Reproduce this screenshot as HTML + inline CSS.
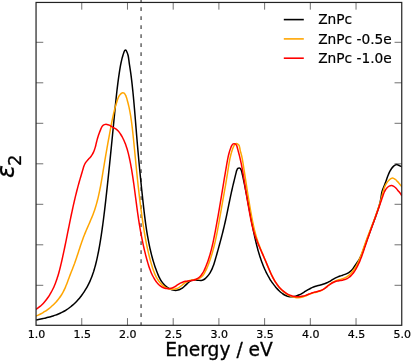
<!DOCTYPE html>
<html><head><meta charset="utf-8"><title>ZnPc</title>
<style>
html,body{margin:0;padding:0;background:#fff;}
body{width:411px;height:361px;overflow:hidden;}
svg{display:block;font-family:"DejaVu Sans","Liberation Sans",sans-serif;}
</style></head><body>
<svg width="411" height="361" viewBox="0 0 411 361">
<rect width="411" height="361" fill="#fff"/>
<clipPath id="c"><rect x="36.05" y="2.45" width="365.7" height="322.85"/></clipPath>
<line x1="141.1" y1="325.3" x2="141.1" y2="0" stroke="#6e6e6e" stroke-width="1.6" stroke-dasharray="3.6 5.4" stroke-dashoffset="0.6"/>
<g clip-path="url(#c)" fill="none" stroke-width="1.5" stroke-linejoin="round">
<path stroke="#000" d="M36.01,319.99C36.41,319.91 37.62,319.66 38.43,319.50C39.25,319.33 40.06,319.17 40.88,319.00C41.70,318.83 42.52,318.65 43.34,318.47C44.15,318.29 44.98,318.11 45.79,317.91C46.61,317.72 47.43,317.52 48.25,317.31C49.06,317.10 49.87,316.89 50.68,316.66C51.49,316.43 52.30,316.19 53.10,315.94C53.90,315.68 54.70,315.42 55.49,315.14C56.28,314.86 57.06,314.57 57.84,314.26C58.61,313.95 59.38,313.62 60.14,313.28C60.90,312.93 61.65,312.57 62.39,312.19C63.13,311.80 63.86,311.40 64.58,310.98C65.30,310.56 66.01,310.12 66.71,309.66C67.41,309.21 68.10,308.73 68.77,308.24C69.45,307.75 70.11,307.24 70.77,306.72C71.42,306.20 72.06,305.66 72.69,305.11C73.32,304.56 73.94,304.00 74.55,303.42C75.15,302.84 75.75,302.25 76.33,301.65C76.91,301.05 77.48,300.44 78.04,299.82C78.59,299.19 79.14,298.56 79.67,297.91C80.20,297.27 80.72,296.61 81.23,295.95C81.74,295.29 82.23,294.61 82.71,293.93C83.20,293.25 83.67,292.56 84.13,291.86C84.58,291.16 85.03,290.45 85.47,289.73C85.90,289.02 86.32,288.30 86.73,287.57C87.14,286.84 87.54,286.10 87.93,285.36C88.31,284.61 88.69,283.86 89.05,283.11C89.42,282.36 89.77,281.60 90.11,280.83C90.45,280.07 90.77,279.29 91.09,278.52C91.40,277.75 91.71,276.97 92.00,276.19C92.30,275.40 92.58,274.62 92.85,273.83C93.12,273.04 93.38,272.24 93.64,271.45C93.89,270.65 94.13,269.85 94.37,269.05C94.60,268.25 94.83,267.45 95.05,266.64C95.27,265.84 95.48,265.03 95.69,264.22C95.90,263.41 96.10,262.60 96.30,261.79C96.49,260.97 96.68,260.16 96.87,259.34C97.05,258.53 97.23,257.71 97.41,256.89C97.58,256.08 97.75,255.26 97.92,254.44C98.09,253.62 98.25,252.80 98.41,251.98C98.57,251.16 98.73,250.33 98.88,249.51C99.03,248.69 99.18,247.87 99.33,247.04C99.47,246.22 99.62,245.39 99.76,244.57C99.90,243.74 100.04,242.92 100.18,242.09C100.31,241.27 100.45,240.44 100.58,239.62C100.71,238.79 100.84,237.97 100.97,237.14C101.10,236.31 101.23,235.49 101.35,234.66C101.47,233.83 101.60,233.01 101.72,232.18C101.84,231.35 101.96,230.52 102.08,229.70C102.19,228.87 102.31,228.04 102.42,227.21C102.54,226.38 102.65,225.56 102.76,224.73C102.88,223.90 102.99,223.07 103.09,222.24C103.20,221.41 103.31,220.58 103.42,219.75C103.52,218.92 103.63,218.09 103.73,217.26C103.84,216.44 103.94,215.61 104.04,214.78C104.14,213.95 104.24,213.12 104.34,212.29C104.44,211.46 104.54,210.63 104.64,209.80C104.74,208.97 104.84,208.13 104.93,207.30C105.03,206.47 105.13,205.64 105.22,204.81C105.32,203.98 105.41,203.15 105.51,202.32C105.60,201.49 105.70,200.66 105.79,199.83C105.88,199.00 105.98,198.17 106.07,197.34C106.16,196.51 106.25,195.67 106.35,194.84C106.44,194.01 106.53,193.18 106.62,192.35C106.71,191.52 106.80,190.69 106.89,189.86C106.99,189.03 107.08,188.20 107.17,187.36C107.26,186.53 107.35,185.70 107.44,184.87C107.52,184.04 107.61,183.21 107.70,182.38C107.79,181.55 107.88,180.71 107.97,179.88C108.06,179.05 108.14,178.22 108.23,177.39C108.32,176.56 108.41,175.73 108.49,174.89C108.58,174.06 108.67,173.23 108.75,172.40C108.84,171.57 108.93,170.74 109.01,169.90C109.10,169.07 109.19,168.24 109.27,167.41C109.36,166.58 109.44,165.75 109.53,164.91C109.61,164.08 109.70,163.25 109.78,162.42C109.87,161.59 109.95,160.76 110.04,159.92C110.12,159.09 110.20,158.26 110.29,157.43C110.37,156.60 110.46,155.76 110.54,154.93C110.62,154.10 110.71,153.27 110.79,152.44C110.87,151.60 110.96,150.77 111.04,149.94C111.12,149.11 111.20,148.28 111.29,147.45C111.37,146.61 111.45,145.78 111.53,144.95C111.62,144.12 111.70,143.28 111.78,142.45C111.86,141.62 111.94,140.79 112.03,139.96C112.11,139.12 112.19,138.29 112.27,137.46C112.35,136.63 112.44,135.80 112.52,134.96C112.60,134.13 112.68,133.30 112.76,132.47C112.84,131.63 112.92,130.80 113.01,129.97C113.09,129.14 113.17,128.31 113.25,127.47C113.33,126.64 113.41,125.81 113.49,124.98C113.57,124.14 113.65,123.31 113.73,122.48C113.82,121.65 113.90,120.82 113.98,119.98C114.06,119.15 114.14,118.32 114.22,117.49C114.30,116.65 114.38,115.82 114.46,114.99C114.54,114.16 114.63,113.33 114.71,112.49C114.79,111.66 114.87,110.83 114.95,110.00C115.03,109.16 115.11,108.33 115.19,107.50C115.28,106.67 115.36,105.84 115.44,105.00C115.52,104.17 115.61,103.34 115.69,102.51C115.77,101.68 115.86,100.84 115.94,100.01C116.03,99.18 116.12,98.35 116.20,97.52C116.29,96.69 116.38,95.85 116.47,95.02C116.56,94.19 116.65,93.36 116.74,92.53C116.84,91.70 116.93,90.87 117.02,90.04C117.12,89.21 117.22,88.38 117.32,87.55C117.42,86.72 117.52,85.89 117.62,85.06C117.72,84.23 117.83,83.40 117.93,82.57C118.04,81.74 118.15,80.92 118.26,80.09C118.37,79.26 118.49,78.43 118.60,77.61C118.72,76.78 118.84,75.95 118.96,75.13C119.08,74.30 119.21,73.47 119.33,72.65C119.46,71.82 119.59,71.00 119.72,70.17C119.86,69.35 119.99,68.52 120.13,67.70C120.27,66.87 120.42,66.05 120.57,65.23C120.72,64.41 120.88,63.58 121.04,62.76C121.21,61.94 121.39,61.12 121.58,60.31C121.77,59.49 121.97,58.67 122.18,57.86C122.40,57.04 122.63,56.23 122.88,55.42C123.13,54.61 123.39,53.80 123.68,52.99C123.97,52.19 124.25,51.06 124.61,50.59C124.97,50.12 125.42,49.84 125.84,50.17C126.26,50.50 126.77,51.75 127.13,52.56C127.49,53.37 127.75,54.21 127.97,55.04C128.20,55.86 128.35,56.68 128.49,57.50C128.63,58.32 128.72,59.14 128.83,59.97C128.94,60.79 129.03,61.61 129.14,62.43C129.25,63.26 129.38,64.09 129.50,64.91C129.63,65.74 129.76,66.57 129.89,67.39C130.02,68.22 130.15,69.05 130.27,69.88C130.40,70.71 130.52,71.54 130.64,72.37C130.75,73.20 130.87,74.02 130.98,74.85C131.09,75.68 131.20,76.51 131.30,77.34C131.41,78.17 131.51,79.00 131.61,79.83C131.71,80.66 131.80,81.49 131.90,82.32C131.99,83.15 132.09,83.98 132.18,84.81C132.27,85.64 132.36,86.47 132.44,87.30C132.53,88.14 132.62,88.97 132.70,89.80C132.79,90.63 132.87,91.46 132.95,92.29C133.04,93.12 133.12,93.96 133.20,94.79C133.28,95.62 133.36,96.45 133.44,97.28C133.51,98.12 133.59,98.95 133.67,99.78C133.74,100.61 133.82,101.45 133.89,102.28C133.97,103.11 134.04,103.95 134.12,104.78C134.19,105.61 134.26,106.44 134.33,107.28C134.41,108.11 134.48,108.94 134.55,109.78C134.62,110.61 134.69,111.44 134.76,112.28C134.83,113.11 134.90,113.95 134.97,114.78C135.04,115.61 135.10,116.45 135.17,117.28C135.24,118.11 135.31,118.95 135.38,119.78C135.44,120.62 135.51,121.45 135.58,122.28C135.65,123.12 135.71,123.95 135.78,124.78C135.85,125.62 135.92,126.45 135.98,127.29C136.05,128.12 136.12,128.95 136.19,129.79C136.25,130.62 136.32,131.45 136.39,132.29C136.46,133.12 136.52,133.95 136.59,134.79C136.66,135.62 136.73,136.45 136.80,137.29C136.87,138.12 136.94,138.95 137.01,139.79C137.08,140.62 137.15,141.45 137.22,142.29C137.29,143.12 137.36,143.95 137.43,144.79C137.50,145.62 137.57,146.45 137.65,147.28C137.72,148.12 137.79,148.95 137.87,149.78C137.94,150.61 138.01,151.45 138.09,152.28C138.16,153.11 138.24,153.94 138.31,154.78C138.39,155.61 138.46,156.44 138.54,157.27C138.62,158.10 138.69,158.94 138.77,159.77C138.85,160.60 138.92,161.43 139.00,162.26C139.08,163.10 139.16,163.93 139.24,164.76C139.32,165.59 139.40,166.42 139.48,167.25C139.56,168.09 139.64,168.92 139.72,169.75C139.80,170.58 139.88,171.41 139.96,172.24C140.04,173.08 140.12,173.91 140.20,174.74C140.29,175.57 140.37,176.40 140.45,177.23C140.53,178.07 140.62,178.90 140.70,179.73C140.78,180.56 140.87,181.39 140.95,182.22C141.04,183.06 141.12,183.89 141.21,184.72C141.29,185.55 141.38,186.38 141.46,187.21C141.55,188.05 141.64,188.88 141.72,189.71C141.81,190.54 141.90,191.37 141.98,192.20C142.07,193.04 142.16,193.87 142.25,194.70C142.34,195.53 142.42,196.36 142.51,197.19C142.60,198.03 142.69,198.86 142.78,199.69C142.87,200.52 142.96,201.35 143.05,202.19C143.14,203.02 143.23,203.85 143.33,204.68C143.42,205.52 143.51,206.35 143.60,207.18C143.70,208.01 143.79,208.84 143.89,209.67C143.98,210.51 144.08,211.34 144.18,212.17C144.28,213.00 144.38,213.83 144.48,214.66C144.58,215.49 144.68,216.32 144.79,217.15C144.89,217.98 145.00,218.81 145.11,219.64C145.21,220.47 145.32,221.30 145.44,222.13C145.55,222.96 145.66,223.79 145.78,224.62C145.90,225.44 146.02,226.27 146.14,227.10C146.26,227.92 146.38,228.75 146.51,229.58C146.64,230.40 146.77,231.23 146.90,232.05C147.03,232.88 147.17,233.70 147.31,234.52C147.45,235.35 147.59,236.17 147.74,236.99C147.88,237.82 148.03,238.64 148.18,239.46C148.34,240.28 148.49,241.10 148.65,241.92C148.81,242.74 148.98,243.55 149.14,244.37C149.31,245.19 149.48,246.01 149.66,246.82C149.83,247.64 150.01,248.45 150.20,249.26C150.38,250.08 150.57,250.89 150.76,251.70C150.96,252.51 151.16,253.33 151.36,254.13C151.56,254.94 151.77,255.75 151.99,256.56C152.20,257.37 152.42,258.17 152.65,258.98C152.87,259.78 153.10,260.58 153.34,261.38C153.58,262.19 153.83,262.99 154.08,263.78C154.33,264.58 154.59,265.38 154.85,266.17C155.12,266.97 155.39,267.76 155.68,268.55C155.96,269.34 156.25,270.13 156.54,270.92C156.84,271.71 157.15,272.49 157.46,273.28C157.78,274.06 158.10,274.84 158.45,275.60C158.79,276.37 159.15,277.13 159.53,277.88C159.91,278.62 160.30,279.35 160.73,280.06C161.16,280.78 161.60,281.47 162.08,282.14C162.57,282.81 163.07,283.46 163.62,284.08C164.17,284.70 164.74,285.30 165.37,285.85C165.99,286.41 166.65,286.95 167.35,287.43C168.05,287.91 168.80,288.37 169.56,288.75C170.32,289.14 171.12,289.48 171.92,289.74C172.71,290.00 173.54,290.20 174.35,290.30C175.16,290.40 175.98,290.42 176.78,290.33C177.58,290.25 178.38,290.06 179.14,289.79C179.91,289.53 180.65,289.16 181.36,288.73C182.08,288.29 182.75,287.76 183.41,287.21C184.07,286.66 184.69,286.02 185.33,285.42C185.96,284.82 186.57,284.17 187.20,283.59C187.84,283.00 188.46,282.41 189.12,281.92C189.79,281.43 190.45,280.96 191.17,280.63C191.88,280.30 192.63,280.05 193.42,279.94C194.21,279.83 195.07,279.91 195.93,279.98C196.79,280.04 197.70,280.26 198.56,280.33C199.43,280.40 200.32,280.52 201.13,280.42C201.95,280.32 202.73,280.08 203.45,279.73C204.18,279.39 204.86,278.87 205.50,278.35C206.13,277.82 206.72,277.20 207.28,276.59C207.84,275.97 208.35,275.32 208.84,274.66C209.32,274.00 209.77,273.31 210.19,272.60C210.61,271.89 211.00,271.17 211.36,270.43C211.73,269.69 212.07,268.93 212.39,268.16C212.72,267.39 213.01,266.61 213.30,265.82C213.59,265.03 213.85,264.23 214.11,263.43C214.37,262.62 214.62,261.81 214.86,261.00C215.10,260.19 215.34,259.37 215.57,258.56C215.80,257.74 216.03,256.93 216.26,256.12C216.50,255.30 216.73,254.49 216.95,253.68C217.18,252.87 217.41,252.06 217.64,251.26C217.86,250.45 218.09,249.64 218.31,248.84C218.54,248.03 218.76,247.23 218.98,246.42C219.20,245.62 219.42,244.81 219.64,244.01C219.86,243.20 220.08,242.40 220.29,241.60C220.51,240.79 220.72,239.99 220.94,239.19C221.15,238.38 221.36,237.58 221.57,236.78C221.78,235.97 221.99,235.17 222.19,234.36C222.40,233.56 222.60,232.75 222.80,231.95C223.00,231.14 223.20,230.34 223.40,229.53C223.60,228.72 223.80,227.91 223.99,227.10C224.18,226.29 224.37,225.48 224.56,224.67C224.75,223.86 224.94,223.05 225.12,222.23C225.31,221.42 225.49,220.60 225.67,219.78C225.85,218.96 226.03,218.14 226.20,217.32C226.38,216.50 226.55,215.68 226.72,214.86C226.89,214.03 227.07,213.21 227.24,212.39C227.41,211.56 227.57,210.74 227.74,209.91C227.91,209.09 228.08,208.27 228.25,207.44C228.41,206.62 228.58,205.79 228.75,204.97C228.92,204.15 229.08,203.33 229.25,202.50C229.42,201.68 229.59,200.86 229.76,200.04C229.93,199.22 230.10,198.41 230.27,197.59C230.44,196.77 230.62,195.96 230.79,195.15C230.97,194.34 231.15,193.52 231.32,192.71C231.50,191.91 231.68,191.10 231.87,190.29C232.05,189.48 232.23,188.67 232.42,187.86C232.61,187.06 232.79,186.25 232.99,185.44C233.18,184.63 233.37,183.82 233.56,183.01C233.76,182.20 233.95,181.38 234.15,180.57C234.35,179.75 234.55,178.93 234.75,178.11C234.95,177.29 235.16,176.47 235.36,175.64C235.57,174.81 235.78,173.98 235.99,173.14C236.21,172.31 236.34,171.42 236.65,170.64C236.97,169.86 237.33,168.88 237.87,168.47C238.41,168.06 239.34,167.90 239.90,168.17C240.46,168.44 240.90,169.37 241.24,170.09C241.57,170.81 241.72,171.67 241.92,172.48C242.13,173.29 242.29,174.13 242.47,174.96C242.65,175.78 242.83,176.61 243.01,177.43C243.18,178.26 243.36,179.08 243.53,179.91C243.71,180.73 243.88,181.56 244.05,182.38C244.22,183.20 244.39,184.03 244.56,184.85C244.72,185.67 244.89,186.50 245.06,187.32C245.22,188.14 245.39,188.97 245.55,189.79C245.71,190.61 245.87,191.43 246.03,192.26C246.19,193.08 246.35,193.90 246.51,194.72C246.67,195.54 246.83,196.36 246.99,197.19C247.15,198.01 247.30,198.83 247.46,199.65C247.62,200.47 247.77,201.29 247.93,202.11C248.08,202.93 248.24,203.75 248.39,204.57C248.55,205.39 248.70,206.21 248.86,207.03C249.01,207.85 249.17,208.67 249.32,209.49C249.48,210.31 249.63,211.13 249.78,211.95C249.94,212.77 250.09,213.59 250.25,214.41C250.40,215.23 250.56,216.05 250.72,216.87C250.87,217.69 251.03,218.51 251.18,219.33C251.34,220.15 251.50,220.97 251.66,221.78C251.82,222.60 251.97,223.42 252.13,224.24C252.29,225.06 252.45,225.88 252.62,226.70C252.78,227.52 252.94,228.33 253.11,229.15C253.27,229.97 253.44,230.79 253.61,231.61C253.77,232.43 253.94,233.24 254.12,234.06C254.29,234.88 254.47,235.69 254.65,236.51C254.82,237.33 255.01,238.14 255.19,238.96C255.38,239.77 255.56,240.59 255.76,241.40C255.95,242.21 256.15,243.03 256.35,243.84C256.55,244.65 256.75,245.46 256.96,246.27C257.17,247.08 257.39,247.89 257.61,248.70C257.83,249.51 258.05,250.32 258.28,251.12C258.51,251.93 258.75,252.73 258.99,253.54C259.23,254.34 259.48,255.14 259.73,255.94C259.99,256.75 260.25,257.55 260.52,258.34C260.79,259.14 261.06,259.94 261.35,260.73C261.63,261.52 261.92,262.31 262.22,263.10C262.51,263.89 262.82,264.67 263.13,265.45C263.44,266.22 263.77,267.00 264.10,267.77C264.42,268.53 264.76,269.30 265.11,270.05C265.46,270.81 265.81,271.56 266.18,272.30C266.54,273.05 266.91,273.78 267.30,274.51C267.68,275.24 268.07,275.96 268.47,276.67C268.88,277.38 269.29,278.08 269.71,278.78C270.14,279.48 270.57,280.17 271.03,280.85C271.48,281.54 271.94,282.21 272.42,282.89C272.91,283.56 273.40,284.24 273.92,284.90C274.44,285.57 274.97,286.24 275.53,286.90C276.08,287.57 276.65,288.23 277.25,288.87C277.84,289.51 278.45,290.15 279.08,290.75C279.70,291.35 280.35,291.94 281.01,292.48C281.67,293.02 282.35,293.54 283.05,294.00C283.74,294.46 284.45,294.89 285.17,295.25C285.90,295.62 286.64,295.94 287.39,296.18C288.15,296.43 288.92,296.62 289.70,296.72C290.48,296.83 291.28,296.87 292.08,296.82C292.88,296.78 293.71,296.65 294.52,296.47C295.34,296.29 296.16,296.03 296.97,295.74C297.79,295.45 298.60,295.10 299.39,294.74C300.18,294.38 300.96,293.97 301.71,293.55C302.47,293.14 303.20,292.70 303.92,292.27C304.65,291.84 305.35,291.39 306.05,290.95C306.76,290.52 307.45,290.08 308.16,289.66C308.87,289.25 309.57,288.83 310.29,288.46C311.02,288.08 311.74,287.72 312.50,287.40C313.25,287.08 314.03,286.80 314.82,286.53C315.61,286.27 316.43,286.05 317.24,285.82C318.06,285.60 318.89,285.39 319.71,285.18C320.53,284.96 321.36,284.75 322.18,284.51C322.99,284.27 323.80,284.03 324.59,283.74C325.38,283.45 326.15,283.13 326.91,282.78C327.66,282.43 328.39,282.03 329.12,281.63C329.85,281.23 330.56,280.80 331.28,280.37C331.99,279.95 332.70,279.51 333.42,279.10C334.14,278.69 334.86,278.28 335.60,277.90C336.34,277.53 337.09,277.18 337.86,276.86C338.63,276.55 339.43,276.28 340.22,276.01C341.01,275.74 341.82,275.50 342.62,275.23C343.41,274.97 344.22,274.71 345.00,274.40C345.77,274.09 346.55,273.77 347.29,273.38C348.02,273.00 348.75,272.56 349.42,272.08C350.10,271.60 350.74,271.06 351.33,270.48C351.92,269.90 352.45,269.25 352.96,268.59C353.47,267.93 353.93,267.22 354.40,266.53C354.87,265.83 355.32,265.11 355.79,264.41C356.26,263.72 356.75,263.05 357.23,262.36C357.70,261.68 358.19,261.01 358.64,260.31C359.09,259.60 359.50,258.88 359.90,258.14C360.29,257.40 360.66,256.65 361.00,255.89C361.35,255.13 361.68,254.36 361.99,253.59C362.31,252.81 362.61,252.04 362.90,251.25C363.19,250.47 363.47,249.69 363.75,248.90C364.03,248.11 364.30,247.32 364.57,246.54C364.85,245.75 365.12,244.96 365.40,244.17C365.68,243.38 365.96,242.60 366.24,241.81C366.53,241.02 366.81,240.24 367.10,239.45C367.39,238.67 367.68,237.88 367.97,237.10C368.26,236.31 368.55,235.53 368.84,234.74C369.13,233.96 369.43,233.18 369.72,232.39C370.02,231.61 370.31,230.82 370.61,230.04C370.90,229.26 371.20,228.47 371.49,227.69C371.79,226.91 372.08,226.12 372.37,225.34C372.67,224.56 372.96,223.77 373.25,222.99C373.54,222.20 373.83,221.42 374.12,220.64C374.41,219.85 374.70,219.07 374.98,218.28C375.27,217.50 375.55,216.71 375.83,215.92C376.11,215.14 376.39,214.35 376.67,213.56C376.94,212.78 377.21,211.99 377.48,211.20C377.74,210.41 378.00,209.61 378.25,208.82C378.50,208.02 378.75,207.23 378.98,206.43C379.21,205.63 379.43,204.83 379.64,204.02C379.85,203.21 380.05,202.40 380.23,201.59C380.42,200.77 380.59,199.95 380.74,199.13C380.89,198.30 381.03,197.47 381.15,196.64C381.27,195.80 381.34,194.95 381.48,194.12C381.63,193.30 381.79,192.48 382.01,191.68C382.22,190.88 382.50,190.10 382.78,189.32C383.06,188.54 383.38,187.77 383.69,187.00C384.00,186.23 384.33,185.46 384.64,184.68C384.95,183.90 385.25,183.12 385.55,182.33C385.84,181.54 386.11,180.74 386.39,179.94C386.68,179.15 386.95,178.34 387.24,177.55C387.52,176.76 387.81,175.97 388.12,175.19C388.44,174.41 388.76,173.64 389.11,172.88C389.46,172.13 389.83,171.39 390.24,170.67C390.66,169.95 391.09,169.24 391.58,168.56C392.07,167.89 392.59,167.19 393.17,166.61C393.75,166.03 394.37,165.41 395.06,165.09C395.75,164.76 396.50,164.53 397.30,164.65C398.11,164.77 399.10,165.43 399.88,165.82C400.66,166.21 401.64,166.80 401.99,166.99"/>
<path stroke="#ffa500" d="M36.03,316.13C36.41,315.96 37.56,315.48 38.31,315.13C39.06,314.77 39.81,314.40 40.55,314.02C41.29,313.63 42.02,313.23 42.74,312.80C43.46,312.38 44.18,311.95 44.88,311.49C45.58,311.04 46.28,310.57 46.96,310.08C47.65,309.59 48.32,309.09 48.98,308.58C49.64,308.06 50.30,307.53 50.93,306.98C51.57,306.44 52.20,305.88 52.81,305.30C53.43,304.73 54.03,304.14 54.61,303.54C55.20,302.94 55.77,302.32 56.33,301.70C56.88,301.07 57.43,300.43 57.95,299.78C58.48,299.12 58.99,298.46 59.48,297.79C59.98,297.11 60.45,296.42 60.91,295.73C61.37,295.03 61.81,294.32 62.24,293.60C62.66,292.88 63.06,292.15 63.45,291.41C63.83,290.68 64.20,289.93 64.55,289.17C64.90,288.42 65.24,287.65 65.56,286.88C65.89,286.12 66.20,285.34 66.51,284.56C66.82,283.78 67.11,283.00 67.41,282.22C67.70,281.43 67.99,280.64 68.28,279.86C68.57,279.07 68.85,278.28 69.15,277.49C69.44,276.71 69.73,275.92 70.03,275.14C70.33,274.36 70.63,273.58 70.94,272.80C71.24,272.02 71.55,271.24 71.86,270.46C72.16,269.69 72.47,268.91 72.78,268.13C73.08,267.35 73.39,266.57 73.68,265.79C73.98,265.01 74.28,264.23 74.57,263.45C74.85,262.66 75.13,261.87 75.41,261.08C75.69,260.30 75.96,259.50 76.23,258.71C76.50,257.92 76.76,257.12 77.03,256.33C77.29,255.54 77.55,254.74 77.81,253.94C78.07,253.15 78.33,252.35 78.58,251.55C78.84,250.75 79.10,249.96 79.36,249.16C79.62,248.36 79.88,247.57 80.14,246.77C80.40,245.98 80.66,245.18 80.93,244.39C81.20,243.60 81.47,242.80 81.75,242.01C82.02,241.22 82.30,240.44 82.59,239.65C82.87,238.86 83.17,238.08 83.46,237.30C83.76,236.52 84.07,235.74 84.38,234.96C84.68,234.19 85.00,233.41 85.32,232.64C85.64,231.87 85.96,231.10 86.29,230.33C86.61,229.56 86.94,228.79 87.27,228.02C87.60,227.25 87.94,226.49 88.27,225.72C88.61,224.96 88.94,224.19 89.27,223.43C89.61,222.66 89.94,221.89 90.27,221.12C90.60,220.36 90.93,219.59 91.25,218.82C91.57,218.05 91.89,217.27 92.20,216.50C92.51,215.72 92.82,214.95 93.12,214.17C93.41,213.38 93.70,212.60 93.99,211.81C94.27,211.02 94.54,210.23 94.80,209.44C95.07,208.64 95.32,207.84 95.57,207.04C95.81,206.24 96.05,205.43 96.28,204.63C96.51,203.82 96.73,203.01 96.95,202.20C97.17,201.39 97.38,200.58 97.58,199.77C97.79,198.95 97.99,198.14 98.18,197.32C98.37,196.51 98.56,195.69 98.74,194.87C98.93,194.06 99.10,193.24 99.28,192.42C99.45,191.61 99.62,190.79 99.79,189.97C99.96,189.15 100.12,188.33 100.28,187.51C100.43,186.69 100.59,185.87 100.74,185.05C100.89,184.23 101.04,183.41 101.19,182.58C101.34,181.76 101.48,180.94 101.62,180.12C101.77,179.29 101.91,178.47 102.05,177.65C102.19,176.82 102.32,176.00 102.46,175.17C102.59,174.35 102.73,173.52 102.86,172.70C103.00,171.87 103.13,171.05 103.27,170.22C103.40,169.40 103.53,168.57 103.67,167.75C103.80,166.92 103.93,166.09 104.07,165.27C104.20,164.44 104.34,163.62 104.47,162.79C104.61,161.96 104.75,161.14 104.89,160.31C105.03,159.48 105.17,158.66 105.31,157.83C105.45,157.00 105.59,156.18 105.73,155.35C105.88,154.52 106.02,153.70 106.17,152.87C106.31,152.04 106.46,151.22 106.60,150.39C106.75,149.56 106.90,148.74 107.04,147.91C107.19,147.09 107.34,146.26 107.49,145.44C107.64,144.61 107.78,143.79 107.93,142.96C108.08,142.14 108.23,141.31 108.38,140.49C108.53,139.67 108.68,138.84 108.83,138.02C108.98,137.20 109.13,136.37 109.28,135.55C109.43,134.73 109.58,133.91 109.73,133.09C109.88,132.26 110.03,131.44 110.18,130.62C110.33,129.80 110.48,128.98 110.64,128.17C110.79,127.35 110.94,126.53 111.09,125.71C111.25,124.89 111.40,124.08 111.56,123.26C111.72,122.44 111.88,121.62 112.05,120.81C112.21,119.99 112.38,119.17 112.55,118.36C112.72,117.54 112.90,116.73 113.08,115.91C113.26,115.10 113.45,114.28 113.64,113.47C113.83,112.65 114.03,111.84 114.23,111.02C114.44,110.21 114.65,109.39 114.86,108.58C115.08,107.76 115.31,106.95 115.54,106.14C115.77,105.32 116.01,104.51 116.26,103.69C116.51,102.88 116.77,102.06 117.04,101.25C117.31,100.43 117.57,99.61 117.87,98.81C118.18,98.01 118.47,97.18 118.85,96.45C119.23,95.72 119.64,95.00 120.18,94.42C120.71,93.84 121.41,93.16 122.07,92.96C122.73,92.76 123.55,92.85 124.12,93.23C124.70,93.61 125.15,94.51 125.55,95.23C125.94,95.96 126.20,96.79 126.48,97.59C126.76,98.39 126.98,99.23 127.21,100.05C127.45,100.87 127.67,101.69 127.88,102.51C128.10,103.34 128.30,104.16 128.50,104.98C128.69,105.80 128.88,106.63 129.06,107.45C129.24,108.27 129.41,109.10 129.57,109.92C129.74,110.75 129.89,111.57 130.05,112.40C130.20,113.22 130.34,114.04 130.48,114.87C130.62,115.70 130.75,116.52 130.87,117.35C131.00,118.17 131.12,119.00 131.24,119.83C131.36,120.65 131.47,121.48 131.58,122.31C131.69,123.13 131.80,123.96 131.90,124.79C132.00,125.62 132.10,126.45 132.20,127.27C132.30,128.10 132.39,128.93 132.48,129.76C132.58,130.59 132.67,131.42 132.76,132.25C132.85,133.08 132.94,133.91 133.03,134.74C133.12,135.57 133.20,136.40 133.29,137.23C133.38,138.06 133.46,138.89 133.55,139.73C133.63,140.56 133.72,141.39 133.80,142.22C133.89,143.05 133.97,143.89 134.05,144.72C134.14,145.55 134.22,146.38 134.30,147.21C134.38,148.05 134.46,148.88 134.55,149.71C134.63,150.55 134.71,151.38 134.79,152.21C134.87,153.05 134.95,153.88 135.03,154.71C135.11,155.55 135.19,156.38 135.27,157.21C135.35,158.05 135.43,158.88 135.52,159.71C135.60,160.55 135.68,161.38 135.76,162.21C135.84,163.05 135.92,163.88 136.00,164.72C136.08,165.55 136.17,166.38 136.25,167.22C136.33,168.05 136.41,168.88 136.50,169.72C136.58,170.55 136.66,171.38 136.75,172.22C136.83,173.05 136.92,173.88 137.00,174.72C137.09,175.55 137.17,176.38 137.26,177.22C137.35,178.05 137.43,178.88 137.52,179.72C137.61,180.55 137.70,181.38 137.79,182.22C137.88,183.05 137.97,183.88 138.06,184.71C138.15,185.55 138.24,186.38 138.33,187.21C138.43,188.04 138.52,188.88 138.61,189.71C138.71,190.54 138.80,191.37 138.90,192.20C138.99,193.03 139.09,193.87 139.19,194.70C139.28,195.53 139.38,196.36 139.48,197.19C139.58,198.02 139.68,198.85 139.78,199.68C139.88,200.52 139.98,201.35 140.09,202.18C140.19,203.01 140.29,203.84 140.40,204.67C140.50,205.50 140.61,206.33 140.72,207.16C140.82,207.99 140.93,208.81 141.04,209.64C141.15,210.47 141.26,211.30 141.37,212.13C141.48,212.96 141.60,213.79 141.71,214.62C141.82,215.44 141.94,216.27 142.05,217.10C142.17,217.93 142.29,218.75 142.41,219.58C142.52,220.41 142.64,221.24 142.77,222.06C142.89,222.89 143.01,223.72 143.13,224.54C143.26,225.37 143.38,226.19 143.51,227.02C143.64,227.84 143.77,228.67 143.90,229.49C144.03,230.32 144.17,231.14 144.31,231.97C144.44,232.79 144.58,233.61 144.72,234.44C144.86,235.26 145.01,236.08 145.15,236.90C145.30,237.73 145.45,238.55 145.60,239.37C145.76,240.19 145.91,241.01 146.07,241.83C146.23,242.65 146.39,243.47 146.56,244.29C146.72,245.11 146.89,245.93 147.06,246.75C147.24,247.57 147.41,248.38 147.59,249.20C147.78,250.02 147.96,250.83 148.15,251.65C148.34,252.47 148.53,253.28 148.73,254.10C148.93,254.91 149.13,255.72 149.33,256.54C149.54,257.35 149.75,258.16 149.97,258.98C150.18,259.79 150.40,260.60 150.63,261.41C150.86,262.22 151.09,263.03 151.33,263.84C151.56,264.65 151.80,265.46 152.05,266.26C152.30,267.07 152.55,267.88 152.82,268.68C153.09,269.48 153.36,270.27 153.65,271.06C153.95,271.85 154.25,272.63 154.57,273.40C154.89,274.17 155.23,274.93 155.59,275.68C155.95,276.43 156.33,277.17 156.74,277.89C157.14,278.61 157.57,279.31 158.03,280.00C158.49,280.69 158.97,281.36 159.49,282.01C160.00,282.65 160.55,283.28 161.13,283.89C161.71,284.49 162.33,285.08 162.97,285.62C163.62,286.16 164.31,286.68 165.02,287.13C165.73,287.58 166.48,287.99 167.25,288.31C168.01,288.63 168.82,288.89 169.64,289.06C170.45,289.23 171.30,289.32 172.13,289.33C172.97,289.34 173.82,289.27 174.64,289.12C175.45,288.97 176.27,288.74 177.04,288.44C177.81,288.13 178.55,287.72 179.26,287.28C179.96,286.84 180.63,286.30 181.30,285.78C181.97,285.27 182.61,284.69 183.28,284.18C183.94,283.67 184.61,283.15 185.31,282.70C186.01,282.26 186.73,281.85 187.47,281.49C188.21,281.13 188.97,280.82 189.76,280.55C190.54,280.29 191.34,280.07 192.17,279.90C192.99,279.72 193.85,279.64 194.69,279.51C195.53,279.38 196.39,279.31 197.19,279.12C197.99,278.93 198.77,278.70 199.47,278.35C200.18,278.00 200.82,277.53 201.42,277.00C202.02,276.47 202.56,275.84 203.08,275.17C203.59,274.51 204.05,273.77 204.49,273.03C204.93,272.28 205.33,271.48 205.71,270.70C206.10,269.92 206.46,269.13 206.80,268.34C207.15,267.56 207.48,266.78 207.80,266.00C208.11,265.22 208.41,264.44 208.71,263.66C209.00,262.88 209.29,262.10 209.56,261.32C209.84,260.54 210.11,259.75 210.37,258.97C210.64,258.18 210.89,257.39 211.14,256.60C211.39,255.81 211.64,255.02 211.88,254.22C212.11,253.42 212.35,252.63 212.57,251.83C212.80,251.03 213.02,250.23 213.24,249.42C213.45,248.62 213.66,247.82 213.87,247.01C214.08,246.20 214.28,245.39 214.47,244.58C214.67,243.77 214.86,242.96 215.05,242.15C215.24,241.34 215.42,240.52 215.60,239.71C215.78,238.89 215.96,238.08 216.13,237.26C216.30,236.44 216.47,235.62 216.64,234.80C216.81,233.98 216.97,233.16 217.13,232.34C217.29,231.52 217.45,230.70 217.61,229.87C217.77,229.05 217.92,228.23 218.07,227.40C218.22,226.58 218.38,225.75 218.52,224.93C218.67,224.10 218.82,223.27 218.97,222.45C219.11,221.62 219.26,220.79 219.40,219.97C219.55,219.14 219.69,218.31 219.84,217.48C219.98,216.66 220.12,215.83 220.27,215.00C220.41,214.17 220.55,213.35 220.70,212.52C220.84,211.69 220.98,210.86 221.13,210.04C221.27,209.21 221.42,208.38 221.56,207.55C221.71,206.73 221.86,205.90 222.00,205.07C222.15,204.25 222.30,203.42 222.44,202.60C222.59,201.77 222.74,200.94 222.88,200.12C223.03,199.29 223.18,198.47 223.33,197.64C223.47,196.82 223.62,195.99 223.77,195.17C223.91,194.35 224.06,193.52 224.21,192.70C224.35,191.87 224.50,191.05 224.64,190.23C224.79,189.40 224.93,188.58 225.08,187.76C225.22,186.93 225.36,186.11 225.51,185.29C225.65,184.47 225.79,183.65 225.93,182.82C226.07,182.00 226.21,181.18 226.34,180.36C226.48,179.54 226.62,178.72 226.75,177.90C226.89,177.08 227.02,176.26 227.16,175.44C227.29,174.62 227.42,173.80 227.55,172.98C227.68,172.16 227.80,171.34 227.93,170.52C228.05,169.70 228.18,168.88 228.30,168.06C228.43,167.25 228.55,166.43 228.69,165.61C228.82,164.79 228.95,163.97 229.09,163.15C229.23,162.33 229.38,161.51 229.54,160.68C229.69,159.86 229.86,159.04 230.03,158.21C230.21,157.39 230.40,156.56 230.60,155.73C230.80,154.90 231.02,154.07 231.25,153.24C231.48,152.41 231.73,151.57 232.00,150.73C232.27,149.90 232.55,149.04 232.86,148.21C233.18,147.38 233.49,146.46 233.88,145.76C234.27,145.06 234.68,144.33 235.22,143.99C235.75,143.65 236.46,143.50 237.09,143.70C237.71,143.90 238.50,144.53 238.94,145.20C239.38,145.87 239.50,146.87 239.71,147.74C239.92,148.60 240.02,149.54 240.21,150.39C240.40,151.23 240.64,152.01 240.85,152.81C241.06,153.61 241.29,154.38 241.48,155.18C241.68,155.97 241.86,156.78 242.03,157.59C242.20,158.40 242.35,159.22 242.50,160.04C242.65,160.87 242.79,161.70 242.92,162.52C243.06,163.35 243.19,164.18 243.32,165.02C243.45,165.85 243.58,166.68 243.70,167.51C243.83,168.34 243.96,169.17 244.09,170.00C244.22,170.82 244.35,171.65 244.47,172.48C244.60,173.31 244.73,174.14 244.86,174.97C244.98,175.80 245.11,176.62 245.24,177.45C245.36,178.28 245.49,179.10 245.62,179.93C245.74,180.76 245.87,181.58 246.00,182.41C246.13,183.24 246.25,184.06 246.38,184.89C246.51,185.72 246.64,186.54 246.76,187.37C246.89,188.19 247.02,189.02 247.15,189.84C247.28,190.67 247.41,191.49 247.54,192.32C247.67,193.14 247.80,193.97 247.93,194.79C248.07,195.62 248.20,196.44 248.33,197.27C248.46,198.09 248.60,198.91 248.73,199.74C248.87,200.56 249.01,201.39 249.14,202.21C249.28,203.04 249.42,203.86 249.56,204.68C249.70,205.51 249.84,206.33 249.98,207.16C250.12,207.98 250.26,208.81 250.41,209.63C250.55,210.45 250.70,211.28 250.85,212.10C250.99,212.93 251.14,213.75 251.29,214.58C251.44,215.40 251.59,216.23 251.75,217.05C251.90,217.87 252.06,218.70 252.22,219.52C252.38,220.35 252.54,221.17 252.71,221.99C252.88,222.81 253.05,223.63 253.23,224.45C253.40,225.27 253.58,226.09 253.77,226.91C253.95,227.73 254.14,228.54 254.34,229.36C254.53,230.17 254.74,230.98 254.94,231.79C255.15,232.60 255.37,233.41 255.59,234.22C255.81,235.02 256.04,235.83 256.28,236.63C256.52,237.43 256.76,238.22 257.02,239.02C257.27,239.81 257.54,240.61 257.81,241.39C258.08,242.18 258.36,242.97 258.65,243.75C258.93,244.53 259.23,245.31 259.53,246.09C259.83,246.87 260.13,247.65 260.44,248.43C260.75,249.20 261.06,249.98 261.38,250.76C261.69,251.53 262.00,252.31 262.32,253.09C262.63,253.86 262.95,254.64 263.26,255.42C263.57,256.20 263.89,256.98 264.20,257.76C264.51,258.53 264.83,259.31 265.14,260.09C265.46,260.87 265.77,261.65 266.09,262.43C266.41,263.20 266.73,263.98 267.05,264.75C267.38,265.53 267.70,266.30 268.03,267.07C268.36,267.84 268.69,268.61 269.02,269.38C269.36,270.14 269.70,270.91 270.04,271.67C270.39,272.42 270.74,273.18 271.09,273.93C271.45,274.69 271.81,275.43 272.18,276.18C272.55,276.92 272.92,277.66 273.31,278.39C273.70,279.12 274.10,279.85 274.52,280.57C274.94,281.29 275.37,282.00 275.82,282.70C276.28,283.40 276.74,284.10 277.24,284.78C277.73,285.47 278.24,286.14 278.78,286.80C279.31,287.46 279.87,288.11 280.45,288.73C281.02,289.35 281.62,289.96 282.23,290.54C282.85,291.12 283.49,291.68 284.14,292.20C284.80,292.73 285.47,293.23 286.16,293.70C286.85,294.16 287.56,294.60 288.29,295.00C289.02,295.39 289.77,295.75 290.53,296.07C291.29,296.38 292.08,296.66 292.87,296.88C293.67,297.11 294.49,297.29 295.31,297.42C296.14,297.55 296.99,297.63 297.82,297.65C298.66,297.67 299.51,297.64 300.34,297.54C301.17,297.44 302.00,297.28 302.81,297.05C303.61,296.82 304.38,296.50 305.15,296.16C305.92,295.82 306.65,295.39 307.41,295.02C308.16,294.65 308.91,294.25 309.68,293.94C310.46,293.64 311.26,293.41 312.06,293.18C312.87,292.95 313.70,292.79 314.51,292.58C315.33,292.38 316.16,292.19 316.96,291.97C317.77,291.74 318.58,291.51 319.36,291.23C320.14,290.95 320.91,290.64 321.65,290.27C322.39,289.90 323.10,289.47 323.78,289.00C324.47,288.52 325.11,287.97 325.77,287.43C326.42,286.89 327.05,286.31 327.70,285.76C328.34,285.22 328.99,284.68 329.66,284.18C330.34,283.69 331.02,283.23 331.73,282.80C332.43,282.37 333.16,281.97 333.90,281.61C334.64,281.24 335.40,280.91 336.18,280.62C336.96,280.32 337.77,280.07 338.59,279.83C339.40,279.58 340.24,279.38 341.06,279.14C341.87,278.90 342.70,278.68 343.48,278.38C344.27,278.08 345.03,277.74 345.75,277.35C346.48,276.96 347.17,276.51 347.84,276.03C348.51,275.55 349.14,275.02 349.75,274.46C350.36,273.90 350.95,273.30 351.50,272.68C352.06,272.07 352.59,271.41 353.10,270.75C353.61,270.09 354.09,269.40 354.56,268.70C355.02,268.00 355.46,267.29 355.88,266.57C356.30,265.85 356.70,265.12 357.09,264.39C357.48,263.65 357.84,262.90 358.20,262.14C358.55,261.39 358.89,260.62 359.22,259.86C359.55,259.09 359.87,258.31 360.17,257.53C360.48,256.75 360.78,255.97 361.07,255.18C361.36,254.39 361.64,253.60 361.93,252.80C362.21,252.01 362.48,251.21 362.76,250.42C363.03,249.62 363.30,248.82 363.57,248.03C363.85,247.23 364.12,246.44 364.40,245.64C364.67,244.85 364.95,244.06 365.24,243.27C365.52,242.48 365.81,241.69 366.10,240.90C366.38,240.12 366.68,239.33 366.97,238.55C367.26,237.77 367.56,236.99 367.85,236.21C368.15,235.43 368.45,234.65 368.75,233.87C369.05,233.09 369.35,232.31 369.65,231.54C369.95,230.76 370.25,229.98 370.55,229.21C370.85,228.43 371.15,227.65 371.45,226.88C371.75,226.10 372.05,225.32 372.35,224.55C372.65,223.77 372.95,222.99 373.25,222.22C373.55,221.44 373.84,220.66 374.14,219.88C374.43,219.10 374.73,218.32 375.02,217.54C375.31,216.76 375.59,215.98 375.88,215.20C376.16,214.41 376.45,213.63 376.72,212.84C377.00,212.06 377.28,211.27 377.55,210.48C377.82,209.69 378.09,208.89 378.36,208.10C378.62,207.30 378.88,206.51 379.13,205.71C379.39,204.91 379.64,204.11 379.89,203.30C380.13,202.50 380.37,201.69 380.60,200.88C380.84,200.07 381.07,199.25 381.29,198.44C381.51,197.62 381.73,196.80 381.94,195.97C382.15,195.15 382.36,194.32 382.57,193.50C382.79,192.68 383.00,191.86 383.24,191.05C383.48,190.25 383.72,189.44 383.99,188.66C384.27,187.88 384.56,187.10 384.89,186.35C385.21,185.60 385.57,184.87 385.97,184.16C386.37,183.46 386.80,182.77 387.29,182.12C387.78,181.47 388.31,180.84 388.91,180.26C389.51,179.68 390.17,178.98 390.88,178.63C391.59,178.27 392.42,178.00 393.19,178.15C393.95,178.30 394.78,179.00 395.47,179.53C396.17,180.07 396.75,180.77 397.34,181.38C397.93,181.99 398.46,182.59 398.99,183.20C399.52,183.82 400.02,184.42 400.52,185.09C401.03,185.75 401.75,186.85 402.00,187.20"/>
<path stroke="#ff0000" d="M35.99,309.39C36.34,309.15 37.39,308.46 38.06,307.96C38.73,307.46 39.39,306.93 40.02,306.39C40.66,305.85 41.28,305.28 41.89,304.70C42.49,304.12 43.07,303.52 43.64,302.91C44.21,302.30 44.77,301.66 45.30,301.02C45.84,300.37 46.36,299.71 46.86,299.04C47.37,298.37 47.86,297.68 48.33,296.99C48.80,296.29 49.26,295.59 49.70,294.87C50.14,294.16 50.57,293.43 50.98,292.70C51.39,291.97 51.78,291.24 52.16,290.49C52.55,289.75 52.91,289.00 53.27,288.25C53.62,287.49 53.96,286.73 54.29,285.97C54.62,285.20 54.93,284.43 55.24,283.66C55.54,282.88 55.84,282.10 56.12,281.32C56.40,280.53 56.68,279.75 56.94,278.96C57.21,278.16 57.46,277.37 57.71,276.57C57.96,275.77 58.19,274.97 58.43,274.17C58.66,273.37 58.88,272.56 59.10,271.75C59.32,270.94 59.54,270.13 59.74,269.32C59.95,268.51 60.16,267.69 60.36,266.88C60.56,266.06 60.75,265.25 60.94,264.43C61.14,263.61 61.33,262.80 61.52,261.98C61.70,261.16 61.89,260.34 62.08,259.52C62.26,258.71 62.44,257.89 62.62,257.07C62.81,256.25 62.98,255.43 63.16,254.61C63.34,253.79 63.52,252.97 63.69,252.15C63.87,251.33 64.04,250.51 64.22,249.69C64.39,248.87 64.56,248.05 64.73,247.23C64.90,246.41 65.07,245.59 65.24,244.77C65.41,243.95 65.58,243.13 65.74,242.31C65.91,241.48 66.08,240.66 66.25,239.84C66.41,239.02 66.58,238.20 66.74,237.38C66.91,236.56 67.07,235.74 67.24,234.92C67.40,234.10 67.57,233.28 67.73,232.45C67.90,231.63 68.06,230.81 68.23,229.99C68.39,229.17 68.56,228.35 68.72,227.53C68.89,226.71 69.05,225.89 69.22,225.07C69.38,224.25 69.55,223.43 69.71,222.61C69.88,221.79 70.05,220.97 70.22,220.15C70.38,219.33 70.55,218.51 70.72,217.69C70.89,216.87 71.06,216.05 71.23,215.23C71.41,214.41 71.58,213.59 71.75,212.78C71.93,211.96 72.10,211.14 72.28,210.32C72.45,209.50 72.63,208.69 72.81,207.87C72.99,207.05 73.17,206.24 73.35,205.42C73.54,204.60 73.72,203.79 73.91,202.97C74.09,202.16 74.28,201.34 74.47,200.53C74.66,199.71 74.85,198.90 75.04,198.08C75.24,197.27 75.43,196.46 75.63,195.64C75.83,194.83 76.03,194.02 76.24,193.21C76.44,192.39 76.64,191.58 76.85,190.77C77.06,189.96 77.27,189.15 77.48,188.34C77.70,187.53 77.91,186.72 78.13,185.91C78.35,185.10 78.57,184.30 78.80,183.49C79.03,182.68 79.25,181.87 79.48,181.07C79.72,180.26 79.95,179.46 80.19,178.65C80.42,177.85 80.66,177.04 80.90,176.24C81.13,175.43 81.37,174.63 81.61,173.82C81.85,173.02 82.09,172.21 82.32,171.40C82.56,170.60 82.79,169.79 83.03,168.98C83.27,168.18 83.48,167.37 83.76,166.58C84.04,165.79 84.32,165.01 84.69,164.27C85.06,163.52 85.48,162.80 85.96,162.12C86.43,161.43 86.99,160.78 87.54,160.15C88.10,159.52 88.74,158.95 89.31,158.33C89.88,157.71 90.45,157.10 90.96,156.44C91.47,155.78 91.94,155.08 92.36,154.37C92.79,153.66 93.18,152.91 93.53,152.15C93.88,151.40 94.19,150.62 94.47,149.83C94.76,149.04 95.00,148.23 95.23,147.41C95.45,146.60 95.65,145.78 95.85,144.96C96.04,144.14 96.22,143.32 96.42,142.51C96.61,141.69 96.81,140.88 97.03,140.08C97.24,139.28 97.47,138.49 97.71,137.70C97.95,136.91 98.20,136.13 98.47,135.34C98.73,134.55 99.01,133.77 99.30,132.98C99.59,132.19 99.90,131.40 100.22,130.60C100.54,129.81 100.84,128.97 101.21,128.19C101.58,127.42 101.91,126.54 102.45,125.95C102.98,125.35 103.67,124.88 104.41,124.62C105.14,124.36 106.04,124.32 106.84,124.41C107.64,124.50 108.44,124.82 109.21,125.17C109.98,125.51 110.71,126.02 111.46,126.45C112.20,126.88 112.94,127.33 113.67,127.75C114.39,128.17 115.13,128.51 115.80,128.97C116.47,129.43 117.11,129.95 117.69,130.52C118.28,131.09 118.82,131.73 119.34,132.39C119.85,133.06 120.33,133.77 120.78,134.49C121.24,135.21 121.66,135.96 122.07,136.71C122.48,137.45 122.87,138.20 123.24,138.96C123.61,139.72 123.96,140.48 124.30,141.25C124.63,142.02 124.95,142.80 125.25,143.58C125.56,144.36 125.84,145.14 126.12,145.93C126.39,146.72 126.65,147.51 126.90,148.31C127.15,149.11 127.38,149.91 127.61,150.71C127.83,151.51 128.05,152.32 128.25,153.13C128.46,153.94 128.65,154.75 128.84,155.57C129.03,156.38 129.21,157.20 129.39,158.01C129.57,158.83 129.74,159.65 129.90,160.47C130.07,161.29 130.23,162.11 130.39,162.93C130.55,163.75 130.70,164.58 130.86,165.40C131.01,166.22 131.16,167.05 131.30,167.87C131.45,168.70 131.59,169.52 131.73,170.35C131.87,171.17 132.00,172.00 132.14,172.82C132.27,173.65 132.40,174.48 132.53,175.31C132.66,176.13 132.78,176.96 132.91,177.79C133.03,178.62 133.15,179.45 133.27,180.28C133.39,181.11 133.51,181.94 133.63,182.77C133.75,183.60 133.86,184.43 133.98,185.26C134.09,186.09 134.20,186.92 134.32,187.75C134.43,188.58 134.54,189.41 134.65,190.24C134.76,191.07 134.87,191.91 134.98,192.74C135.08,193.57 135.19,194.40 135.30,195.23C135.41,196.06 135.52,196.89 135.62,197.73C135.73,198.56 135.84,199.39 135.95,200.22C136.05,201.05 136.16,201.88 136.27,202.71C136.38,203.55 136.49,204.38 136.60,205.21C136.71,206.04 136.82,206.87 136.93,207.70C137.04,208.53 137.16,209.36 137.27,210.19C137.38,211.02 137.50,211.85 137.62,212.68C137.73,213.51 137.85,214.34 137.97,215.16C138.09,215.99 138.21,216.82 138.34,217.65C138.46,218.48 138.58,219.30 138.71,220.13C138.84,220.96 138.97,221.78 139.10,222.61C139.23,223.44 139.36,224.26 139.50,225.09C139.63,225.91 139.77,226.74 139.91,227.56C140.05,228.39 140.19,229.21 140.34,230.03C140.48,230.86 140.63,231.68 140.78,232.50C140.93,233.33 141.08,234.15 141.23,234.97C141.39,235.79 141.55,236.61 141.71,237.43C141.87,238.26 142.03,239.08 142.20,239.90C142.36,240.72 142.53,241.53 142.70,242.35C142.88,243.17 143.05,243.99 143.23,244.81C143.41,245.63 143.59,246.44 143.78,247.26C143.96,248.08 144.15,248.89 144.35,249.71C144.54,250.52 144.74,251.34 144.94,252.15C145.14,252.97 145.34,253.78 145.55,254.60C145.75,255.41 145.97,256.22 146.18,257.03C146.40,257.85 146.61,258.66 146.84,259.47C147.06,260.28 147.29,261.09 147.52,261.90C147.75,262.71 147.99,263.52 148.24,264.32C148.48,265.13 148.73,265.93 148.99,266.73C149.26,267.53 149.53,268.32 149.81,269.11C150.10,269.90 150.39,270.68 150.71,271.46C151.02,272.24 151.34,273.00 151.69,273.76C152.03,274.52 152.39,275.28 152.77,276.02C153.15,276.76 153.55,277.49 153.97,278.21C154.39,278.92 154.83,279.63 155.30,280.33C155.77,281.02 156.26,281.71 156.78,282.37C157.30,283.02 157.84,283.68 158.42,284.27C159.01,284.87 159.62,285.45 160.27,285.95C160.92,286.45 161.61,286.91 162.35,287.29C163.09,287.66 163.88,287.97 164.69,288.19C165.49,288.41 166.36,288.55 167.20,288.61C168.05,288.66 168.93,288.64 169.77,288.53C170.61,288.42 171.46,288.23 172.26,287.95C173.05,287.68 173.81,287.29 174.54,286.88C175.28,286.46 175.97,285.96 176.67,285.49C177.36,285.02 178.04,284.50 178.74,284.05C179.44,283.61 180.14,283.19 180.87,282.84C181.60,282.50 182.34,282.21 183.12,281.96C183.89,281.71 184.68,281.52 185.50,281.36C186.32,281.19 187.17,281.07 188.03,280.95C188.89,280.84 189.79,280.77 190.66,280.65C191.53,280.53 192.42,280.43 193.25,280.25C194.08,280.06 194.88,279.84 195.63,279.53C196.38,279.23 197.07,278.85 197.73,278.42C198.39,277.99 198.99,277.49 199.57,276.95C200.14,276.41 200.68,275.81 201.18,275.19C201.69,274.56 202.15,273.88 202.60,273.18C203.04,272.48 203.45,271.74 203.85,270.99C204.24,270.23 204.61,269.45 204.96,268.66C205.32,267.88 205.65,267.07 205.97,266.27C206.30,265.47 206.61,264.66 206.91,263.85C207.21,263.04 207.50,262.24 207.79,261.43C208.07,260.63 208.34,259.82 208.61,259.01C208.87,258.21 209.13,257.40 209.38,256.60C209.63,255.79 209.86,254.98 210.10,254.18C210.33,253.37 210.56,252.56 210.77,251.76C210.99,250.95 211.21,250.14 211.41,249.34C211.62,248.53 211.82,247.72 212.01,246.91C212.21,246.10 212.40,245.29 212.58,244.48C212.77,243.67 212.95,242.86 213.12,242.05C213.30,241.24 213.47,240.43 213.64,239.62C213.81,238.81 213.98,238.00 214.14,237.18C214.30,236.37 214.46,235.56 214.62,234.74C214.78,233.93 214.94,233.11 215.09,232.29C215.25,231.48 215.40,230.66 215.55,229.84C215.71,229.02 215.86,228.20 216.01,227.38C216.16,226.56 216.31,225.74 216.46,224.92C216.61,224.10 216.76,223.28 216.91,222.46C217.06,221.63 217.21,220.81 217.36,219.99C217.50,219.16 217.65,218.34 217.79,217.51C217.94,216.69 218.08,215.86 218.23,215.03C218.37,214.21 218.52,213.38 218.66,212.55C218.80,211.73 218.95,210.90 219.09,210.07C219.23,209.24 219.37,208.41 219.51,207.59C219.65,206.76 219.79,205.93 219.93,205.10C220.07,204.27 220.21,203.44 220.35,202.61C220.49,201.78 220.63,200.95 220.77,200.12C220.91,199.29 221.05,198.46 221.19,197.63C221.32,196.80 221.46,195.97 221.60,195.14C221.74,194.31 221.87,193.48 222.01,192.65C222.15,191.82 222.28,190.99 222.42,190.16C222.56,189.33 222.69,188.50 222.83,187.67C222.96,186.84 223.10,186.01 223.24,185.19C223.37,184.36 223.51,183.53 223.65,182.70C223.78,181.87 223.92,181.04 224.05,180.22C224.19,179.39 224.33,178.56 224.46,177.74C224.60,176.91 224.74,176.09 224.88,175.26C225.01,174.44 225.15,173.62 225.29,172.79C225.43,171.97 225.57,171.15 225.71,170.33C225.85,169.51 225.99,168.69 226.13,167.87C226.27,167.06 226.41,166.24 226.56,165.42C226.70,164.61 226.84,163.80 226.99,162.98C227.13,162.17 227.28,161.36 227.43,160.55C227.58,159.74 227.72,158.93 227.89,158.12C228.05,157.31 228.22,156.50 228.40,155.68C228.59,154.87 228.79,154.05 229.01,153.22C229.23,152.40 229.46,151.57 229.73,150.73C230.00,149.88 230.28,149.02 230.61,148.18C230.94,147.34 231.27,146.39 231.69,145.68C232.12,144.98 232.58,144.26 233.14,143.96C233.71,143.66 234.52,143.62 235.11,143.91C235.70,144.19 236.30,144.94 236.69,145.67C237.08,146.40 237.23,147.43 237.47,148.29C237.71,149.15 237.92,150.00 238.14,150.83C238.37,151.65 238.59,152.43 238.80,153.23C239.02,154.03 239.23,154.83 239.43,155.63C239.63,156.43 239.82,157.24 240.01,158.05C240.20,158.85 240.39,159.67 240.57,160.48C240.74,161.29 240.92,162.11 241.09,162.93C241.26,163.74 241.42,164.56 241.58,165.38C241.74,166.21 241.90,167.03 242.05,167.85C242.20,168.68 242.35,169.50 242.50,170.33C242.64,171.16 242.78,171.99 242.93,172.81C243.07,173.64 243.20,174.47 243.34,175.30C243.48,176.13 243.61,176.96 243.74,177.79C243.88,178.62 244.01,179.45 244.14,180.28C244.27,181.11 244.40,181.94 244.53,182.77C244.66,183.60 244.79,184.43 244.92,185.26C245.05,186.09 245.18,186.91 245.31,187.74C245.45,188.57 245.58,189.39 245.71,190.22C245.84,191.04 245.98,191.86 246.11,192.69C246.24,193.51 246.38,194.33 246.51,195.16C246.65,195.98 246.78,196.80 246.92,197.62C247.06,198.44 247.20,199.27 247.34,200.09C247.48,200.91 247.62,201.73 247.76,202.55C247.90,203.37 248.04,204.20 248.18,205.02C248.33,205.84 248.47,206.66 248.62,207.49C248.76,208.31 248.91,209.13 249.06,209.96C249.21,210.78 249.36,211.61 249.51,212.43C249.66,213.26 249.81,214.08 249.96,214.91C250.12,215.74 250.27,216.57 250.43,217.39C250.59,218.22 250.75,219.05 250.92,219.88C251.09,220.70 251.26,221.53 251.44,222.35C251.61,223.18 251.79,224.00 251.98,224.82C252.17,225.64 252.37,226.46 252.57,227.28C252.77,228.10 252.98,228.91 253.21,229.72C253.43,230.53 253.66,231.33 253.90,232.13C254.14,232.93 254.39,233.73 254.65,234.52C254.90,235.32 255.17,236.11 255.45,236.89C255.73,237.68 256.01,238.46 256.31,239.24C256.60,240.02 256.90,240.80 257.20,241.57C257.51,242.35 257.82,243.12 258.14,243.89C258.45,244.66 258.77,245.43 259.10,246.20C259.42,246.97 259.76,247.73 260.09,248.50C260.42,249.26 260.76,250.03 261.09,250.79C261.43,251.56 261.77,252.32 262.11,253.09C262.45,253.85 262.79,254.61 263.13,255.38C263.47,256.15 263.81,256.91 264.15,257.68C264.49,258.45 264.83,259.22 265.16,259.99C265.50,260.76 265.83,261.53 266.16,262.31C266.49,263.08 266.82,263.86 267.14,264.64C267.47,265.41 267.79,266.20 268.11,266.97C268.43,267.75 268.75,268.53 269.08,269.31C269.41,270.09 269.74,270.86 270.07,271.63C270.41,272.41 270.75,273.17 271.10,273.94C271.45,274.70 271.80,275.45 272.17,276.20C272.54,276.95 272.92,277.70 273.31,278.43C273.70,279.16 274.11,279.89 274.53,280.60C274.95,281.31 275.39,282.02 275.84,282.71C276.30,283.40 276.77,284.08 277.27,284.74C277.77,285.41 278.28,286.06 278.82,286.69C279.36,287.33 279.93,287.95 280.51,288.55C281.10,289.15 281.72,289.74 282.36,290.30C282.99,290.85 283.66,291.40 284.34,291.90C285.02,292.41 285.72,292.89 286.44,293.34C287.16,293.78 287.90,294.20 288.65,294.57C289.40,294.94 290.17,295.28 290.95,295.57C291.73,295.86 292.52,296.10 293.32,296.30C294.12,296.49 294.94,296.64 295.75,296.72C296.57,296.81 297.40,296.84 298.23,296.82C299.06,296.80 299.90,296.71 300.73,296.58C301.56,296.45 302.40,296.27 303.22,296.06C304.04,295.86 304.86,295.60 305.67,295.34C306.47,295.08 307.25,294.78 308.03,294.48C308.81,294.19 309.57,293.87 310.35,293.58C311.12,293.28 311.89,292.98 312.67,292.72C313.46,292.46 314.26,292.23 315.06,292.01C315.87,291.79 316.70,291.62 317.52,291.41C318.33,291.20 319.15,291.01 319.95,290.75C320.74,290.50 321.54,290.23 322.29,289.87C323.04,289.52 323.76,289.09 324.46,288.63C325.16,288.16 325.82,287.62 326.49,287.09C327.16,286.57 327.81,286.00 328.48,285.49C329.15,284.97 329.81,284.47 330.51,284.01C331.20,283.56 331.90,283.13 332.63,282.75C333.35,282.37 334.10,282.02 334.87,281.73C335.64,281.44 336.44,281.20 337.27,281.00C338.09,280.81 338.97,280.69 339.83,280.55C340.69,280.41 341.58,280.33 342.43,280.16C343.27,280.00 344.11,279.82 344.90,279.55C345.68,279.29 346.43,278.95 347.15,278.56C347.86,278.17 348.53,277.72 349.18,277.23C349.82,276.73 350.43,276.18 351.02,275.60C351.60,275.02 352.15,274.40 352.68,273.75C353.21,273.11 353.71,272.42 354.19,271.73C354.67,271.04 355.12,270.32 355.56,269.60C356.00,268.88 356.41,268.14 356.82,267.41C357.22,266.67 357.60,265.92 357.97,265.17C358.34,264.42 358.70,263.66 359.04,262.90C359.38,262.14 359.71,261.37 360.03,260.60C360.35,259.82 360.66,259.05 360.96,258.27C361.26,257.49 361.55,256.70 361.83,255.91C362.12,255.13 362.40,254.34 362.67,253.55C362.95,252.76 363.21,251.96 363.48,251.17C363.75,250.37 364.01,249.58 364.28,248.78C364.54,247.99 364.81,247.19 365.07,246.40C365.34,245.60 365.61,244.81 365.88,244.01C366.14,243.22 366.42,242.43 366.69,241.64C366.96,240.84 367.23,240.05 367.51,239.26C367.78,238.47 368.06,237.68 368.34,236.89C368.61,236.09 368.89,235.30 369.17,234.51C369.45,233.72 369.73,232.93 370.01,232.15C370.29,231.36 370.57,230.57 370.85,229.78C371.13,228.99 371.42,228.20 371.70,227.41C371.98,226.62 372.27,225.84 372.55,225.05C372.83,224.26 373.12,223.47 373.40,222.69C373.69,221.90 373.97,221.11 374.25,220.32C374.54,219.53 374.82,218.75 375.11,217.96C375.39,217.17 375.68,216.39 375.96,215.60C376.24,214.81 376.53,214.02 376.81,213.23C377.09,212.45 377.37,211.66 377.66,210.87C377.94,210.08 378.22,209.29 378.50,208.51C378.78,207.72 379.06,206.93 379.34,206.14C379.62,205.35 379.89,204.56 380.17,203.77C380.45,202.98 380.72,202.19 381.00,201.40C381.27,200.61 381.54,199.82 381.81,199.03C382.09,198.24 382.35,197.45 382.63,196.66C382.90,195.86 383.15,195.07 383.44,194.28C383.73,193.50 384.01,192.72 384.36,191.96C384.71,191.21 385.07,190.46 385.53,189.76C385.99,189.06 386.50,188.36 387.11,187.75C387.72,187.14 388.44,186.49 389.17,186.13C389.90,185.76 390.72,185.51 391.49,185.56C392.26,185.60 393.08,185.97 393.80,186.38C394.52,186.79 395.21,187.43 395.82,188.02C396.43,188.60 396.93,189.27 397.47,189.90C398.01,190.54 398.54,191.18 399.06,191.82C399.59,192.47 400.13,193.12 400.62,193.80C401.10,194.47 401.77,195.55 402.00,195.90"/>
</g>
<g stroke="#333" stroke-width="0.7"><line x1="81.76" y1="325.3" x2="81.76" y2="318.1"/><line x1="81.76" y1="2.45" x2="81.76" y2="9.65"/><line x1="127.47" y1="325.3" x2="127.47" y2="318.1"/><line x1="127.47" y1="2.45" x2="127.47" y2="9.65"/><line x1="173.19" y1="325.3" x2="173.19" y2="318.1"/><line x1="173.19" y1="2.45" x2="173.19" y2="9.65"/><line x1="218.90" y1="325.3" x2="218.90" y2="318.1"/><line x1="218.90" y1="2.45" x2="218.90" y2="9.65"/><line x1="264.61" y1="325.3" x2="264.61" y2="318.1"/><line x1="264.61" y1="2.45" x2="264.61" y2="9.65"/><line x1="310.32" y1="325.3" x2="310.32" y2="318.1"/><line x1="310.32" y1="2.45" x2="310.32" y2="9.65"/><line x1="356.04" y1="325.3" x2="356.04" y2="318.1"/><line x1="356.04" y1="2.45" x2="356.04" y2="9.65"/><line x1="36.05" y1="42.30" x2="43.25" y2="42.30"/><line x1="401.75" y1="42.30" x2="394.55" y2="42.30"/><line x1="36.05" y1="82.80" x2="43.25" y2="82.80"/><line x1="401.75" y1="82.80" x2="394.55" y2="82.80"/><line x1="36.05" y1="123.30" x2="43.25" y2="123.30"/><line x1="401.75" y1="123.30" x2="394.55" y2="123.30"/><line x1="36.05" y1="163.80" x2="43.25" y2="163.80"/><line x1="401.75" y1="163.80" x2="394.55" y2="163.80"/><line x1="36.05" y1="204.30" x2="43.25" y2="204.30"/><line x1="401.75" y1="204.30" x2="394.55" y2="204.30"/><line x1="36.05" y1="244.80" x2="43.25" y2="244.80"/><line x1="401.75" y1="244.80" x2="394.55" y2="244.80"/><line x1="36.05" y1="285.30" x2="43.25" y2="285.30"/><line x1="401.75" y1="285.30" x2="394.55" y2="285.30"/></g>
<rect x="36.05" y="2.45" width="365.7" height="322.85" fill="none" stroke="#222" stroke-width="1.2"/>
<g font-size="11px" fill="#000" stroke="#000" stroke-width="0.2"><text x="36.05" y="337.6" text-anchor="middle" dx="0.4">1.0</text><text x="81.76" y="337.6" text-anchor="middle" dx="0.4">1.5</text><text x="127.47" y="337.6" text-anchor="middle" dx="0.4">2.0</text><text x="173.19" y="337.6" text-anchor="middle" dx="0.4">2.5</text><text x="218.90" y="337.6" text-anchor="middle" dx="0.4">3.0</text><text x="264.61" y="337.6" text-anchor="middle" dx="0.4">3.5</text><text x="310.32" y="337.6" text-anchor="middle" dx="0.4">4.0</text><text x="356.04" y="337.6" text-anchor="middle" dx="0.4">4.5</text><text x="401.75" y="337.6" text-anchor="middle" dx="0.4">5.0</text></g>
<text x="219" y="356.4" font-size="18.67px" text-anchor="middle" fill="#000" stroke="#000" stroke-width="0.3">Energy / eV</text>
<text transform="translate(13.6,178) rotate(-90)" font-size="24px" fill="#000" stroke="#000" stroke-width="0.3"><tspan font-style="italic">ε</tspan><tspan font-size="18px" dy="7.4" dx="-0.9">2</tspan></text>
<g stroke-width="1.6" fill="none">
<line x1="283.8" y1="19.6" x2="303.8" y2="19.6" stroke="#000"/>
<line x1="283.8" y1="38.9" x2="303.8" y2="38.9" stroke="#ffa500"/>
<line x1="283.8" y1="58.2" x2="303.8" y2="58.2" stroke="#ff0000"/>
</g>
<g font-size="13.75px" fill="#000" stroke="#000" stroke-width="0.2">
<text x="318.2" y="24.2">ZnPc</text>
<text x="318.2" y="43.5">ZnPc -0.5e</text>
<text x="318.2" y="62.7">ZnPc -1.0e</text>
</g>

</svg>
</body></html>
